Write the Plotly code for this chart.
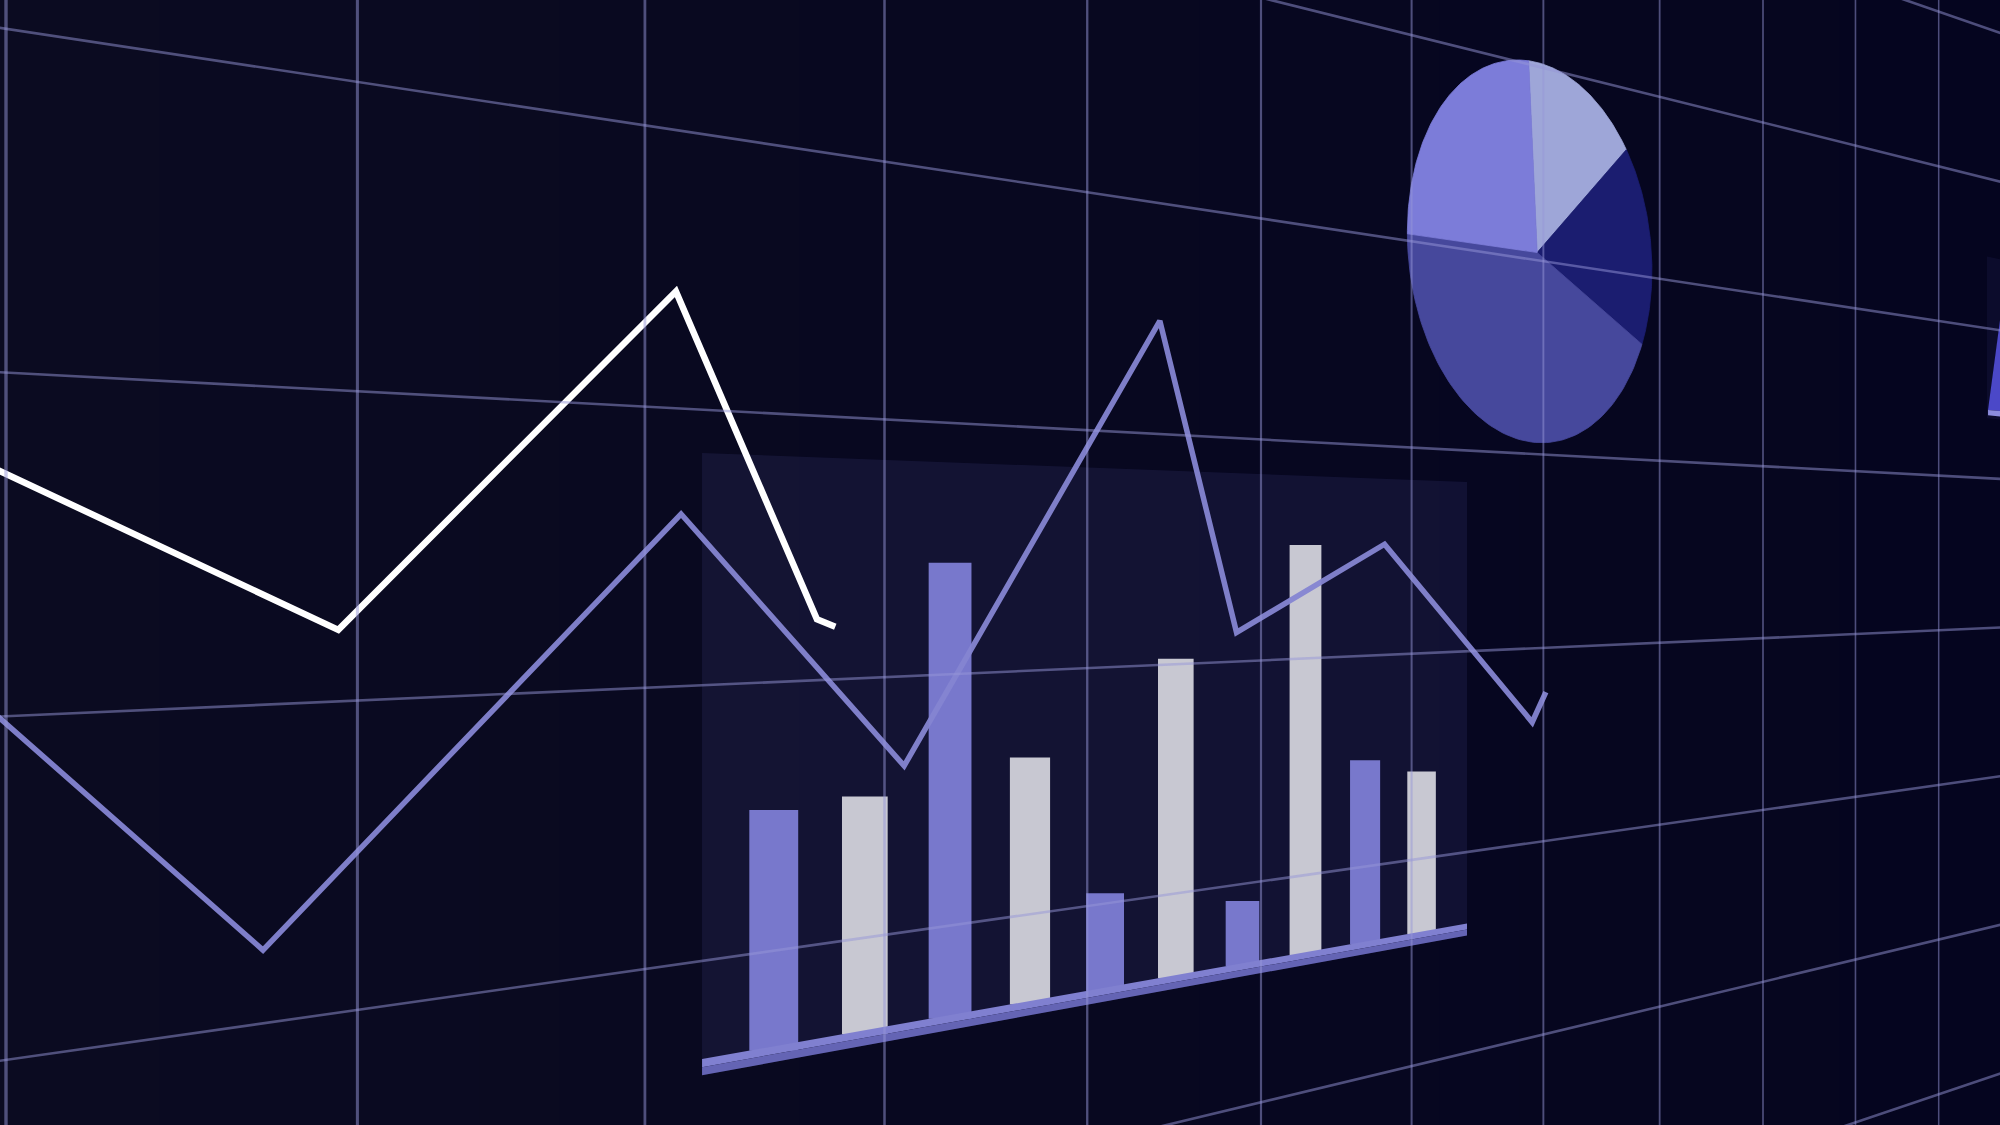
import numpy as np
import plotly.graph_objects as go

# ---------------- chart data ----------------
# Bar chart drawn on the perspective panel (values: 50 units = one grid cell)
bar_categories = ["B1", "B2", "B3", "B4", "B5", "B6", "B7", "B8", "B9", "B10"]
bar_series = ["violet", "silver", "violet", "silver", "violet",
              "silver", "violet", "silver", "violet", "silver"]
bar_values = [44, 45, 90, 50, 20, 69, 14, 94, 43, 39]

# Line charts (position along the wall in grid columns, level in grid rows; rows grow downward)
white_col = [-0.03, 0.94, 2.12, 2.70, 2.78]
white_row = [0.28, 0.77, -0.42, 0.77, 0.80]
purple_col = [-0.03, 0.71, 2.14, 3.09, 4.40, 4.85, 5.81, 6.91, 7.02]
purple_row = [0.99, 1.77, 0.38, 1.35, -0.49, 0.87, 0.47, 1.38, 1.23]

# Pie chart (clockwise from the top)
pie_labels = ["P1", "P2", "P3", "P4"]
pie_values = [15, 18, 43, 24]

# ---------------- scene geometry / styles ----------------
W, H = 2000, 1125
VP_X, VP_Y = 3520.0, 560.0      # vanishing point of the wall
X0 = 6.0                         # screen x of grid column 0
ROW0_Y = 372.5                   # screen y of grid row 0 at column 0
CELL = 343.7                     # cell height at column 0
DEPTH_RATE = 1.0 / 9.0

BG_LEFT = (11, 11, 33)
BG_RIGHT = (5, 5, 31)
GRID_COLOR = "rgba(150,150,215,0.50)"
VIOLET = "#7878cc"
SILVER = "#c8c8d2"
PIE_COLORS = ["#9ea6d8", "#1b1d70", "#46489c", "#7c7cd9"]

PANEL_U = (2.223, 6.405)
PANEL_TOP_V = 0.157
BASE_V = 2.356
BAND_BOTTOM_V = 2.415
BAR_U0, BAR_STEP, BAR_W = 2.517, 0.395, 0.205
UNITS_PER_CELL = 50.0

PIE_CENTER = (6.95, -1.04)
PIE_R = 0.98
PIE_START_DEG = 94.0


def proj(u, v):
    u = np.asarray(u, dtype=float)
    v = np.asarray(v, dtype=float)
    d = 1.0 + u * DEPTH_RATE
    x = VP_X - (VP_X - X0) / d
    y = VP_Y + (ROW0_Y + CELL * v - VP_Y) / d
    return x, y


def quad(u0, u1, v0, v1):
    xs, ys = proj([u0, u1, u1, u0, u0], [v0, v0, v1, v1, v0])
    return xs, ys


def path_from(xs, ys):
    pts = [f"{x:.2f},{y:.2f}" for x, y in zip(xs, ys)]
    return "M " + " L ".join(pts) + " Z"


fig = go.Figure()
shapes = []

# background gradient strips
n_strips = 25
for i in range(n_strips):
    t = i / (n_strips - 1)
    c = tuple(round(BG_LEFT[k] + (BG_RIGHT[k] - BG_LEFT[k]) * t) for k in range(3))
    shapes.append(dict(type="rect", xref="x", yref="y", layer="below",
                       x0=i * W / n_strips - 1, x1=(i + 1) * W / n_strips + 1,
                       y0=-5, y1=H + 5, line=dict(width=0),
                       fillcolor=f"rgb{c}"))

# bar panel
px_, py_ = quad(PANEL_U[0], PANEL_U[1], PANEL_TOP_V, BAND_BOTTOM_V)
shapes.append(dict(type="path", xref="x", yref="y", layer="below",
                   path=path_from(px_[:4], py_[:4]),
                   fillcolor="rgba(120,120,230,0.10)", line=dict(width=0)))

# partial panel at the right edge
rx, ry = quad(11.63, 12.6, -1.478, -0.40)
shapes.append(dict(type="path", xref="x", yref="y", layer="below",
                   path=path_from(rx[:4], ry[:4]),
                   fillcolor="rgba(120,120,230,0.07)", line=dict(width=0)))

# ---------------- pie ----------------
total = float(sum(pie_values))
cum = 0.0
cu, cv = PIE_CENTER
for lab, val, col in zip(pie_labels, pie_values, PIE_COLORS):
    a0 = np.radians(PIE_START_DEG - 360.0 * cum / total)
    a1 = np.radians(PIE_START_DEG - 360.0 * (cum + val) / total)
    cum += val
    t = np.linspace(a0, a1, 90)
    us = np.concatenate([[cu], cu + PIE_R * np.cos(t), [cu]])
    vs = np.concatenate([[cv], cv - PIE_R * np.sin(t), [cv]])
    xs, ys = proj(us, vs)
    fig.add_trace(go.Scatter(x=xs, y=ys, mode="lines", fill="toself",
                             fillcolor=col, line=dict(color=col, width=0.8),
                             name=lab, hoverinfo="skip"))

# ---------------- bars ----------------
for series, color in (("violet", VIOLET), ("silver", SILVER)):
    xc, wd, bs, hs = [], [], [], []
    for i, (s, val) in enumerate(zip(bar_series, bar_values)):
        if s != series:
            continue
        uc = BAR_U0 + i * BAR_STEP
        uL, uR = uc - BAR_W / 2, uc + BAR_W / 2
        top_v = BASE_V - val / UNITS_PER_CELL
        xL, yLb = proj(uL, BASE_V)
        xR, yRb = proj(uR, BASE_V)
        _, yLt = proj(uL, top_v)
        _, yRt = proj(uR, top_v)
        base = float(max(yLb, yRb))
        top = float((yLt + yRt) / 2)
        xc.append(float((xL + xR) / 2))
        wd.append(float(xR - xL))
        bs.append(base)
        hs.append(top - base)
    fig.add_trace(go.Bar(x=xc, y=hs, base=bs, width=wd,
                         marker=dict(color=color, line=dict(width=0)),
                         name=series, hoverinfo="skip"))

# baseline band (two tones)
bx, by = quad(PANEL_U[0], PANEL_U[1], BASE_V, (BASE_V + BAND_BOTTOM_V) / 2)
fig.add_trace(go.Scatter(x=bx, y=by, mode="lines", fill="toself",
                         fillcolor="#8080d0", line=dict(width=0), hoverinfo="skip"))
bx, by = quad(PANEL_U[0], PANEL_U[1], (BASE_V + BAND_BOTTOM_V) / 2, BAND_BOTTOM_V)
fig.add_trace(go.Scatter(x=bx, y=by, mode="lines", fill="toself",
                         fillcolor="#6464b4", line=dict(width=0), hoverinfo="skip"))

# partial chart at right edge
ax_, ay_ = proj([11.644, 11.85, 12.6, 11.644], [-0.456, -1.23, -0.456, -0.456])
fig.add_trace(go.Scatter(x=ax_, y=ay_, mode="lines", fill="toself",
                         fillcolor="#4b48c8", line=dict(width=0), hoverinfo="skip"))
sx, sy = quad(11.644, 12.6, -0.456, -0.42)
fig.add_trace(go.Scatter(x=sx, y=sy, mode="lines", fill="toself",
                         fillcolor="#8c8cdc", line=dict(width=0), hoverinfo="skip"))

# ---------------- lines ----------------
px, py = proj(purple_col, purple_row)
fig.add_trace(go.Scatter(x=px, y=py, mode="lines",
                         line=dict(color="#8585d2", width=5.5),
                         opacity=0.95, hoverinfo="skip"))
wx, wy = proj(white_col, white_row)
fig.add_trace(go.Scatter(x=wx, y=wy, mode="lines",
                         line=dict(color="#ffffff", width=6.5),
                         hoverinfo="skip"))

# ---------------- perspective grid (on top, translucent) ----------------
for c in range(0, 13):
    gx, _ = proj(c, 0)
    d = 1.0 + c * DEPTH_RATE
    fig.add_trace(go.Scatter(x=[float(gx), float(gx)], y=[-5, H + 5], mode="lines",
                             line=dict(color=GRID_COLOR, width=3.4 / d),
                             hoverinfo="skip"))
hx, hy = [], []
for r in range(-3, 5):
    xs, ys = proj([-0.05, 12.5], [r, r])
    hx += [float(xs[0]), float(xs[1]), None]
    hy += [float(ys[0]), float(ys[1]), None]
fig.add_trace(go.Scatter(x=hx, y=hy, mode="lines",
                         line=dict(color=GRID_COLOR, width=2.6), hoverinfo="skip"))

bg_mid = tuple((BG_LEFT[k] + BG_RIGHT[k]) // 2 for k in range(3))
fig.update_layout(
    width=W, height=H,
    margin=dict(l=0, r=0, t=0, b=0),
    paper_bgcolor=f"rgb{bg_mid}", plot_bgcolor=f"rgb{bg_mid}",
    showlegend=False, barmode="overlay",
    xaxis=dict(range=[0, W], visible=False, fixedrange=True),
    yaxis=dict(range=[H, 0], visible=False, fixedrange=True),
    shapes=shapes,
)

fig.write_html("out.html", config={"displayModeBar": False},
               post_script="document.body.style.margin='0';document.body.style.overflow='hidden';")
